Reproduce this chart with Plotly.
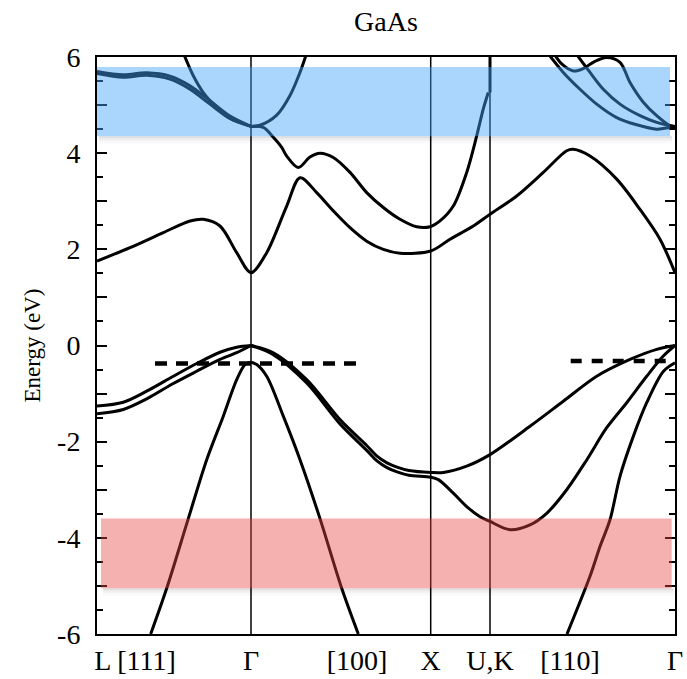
import plotly.graph_objects as go

# ---------------- data ----------------
# k-path coordinate (scaled path length), symmetry points
sym_k = [154, 333.7, 393]                     # Γ, X, U,K vertical lines
xtick_vals = [38, 154, 260, 333.7, 393, 473, 578]
xtick_text = ["L [111]", "Γ", "[100]", "X", "U,K", "[110]", "Γ"]
ytick_vals = [-6, -5, -4, -3, -2, -1, 0, 1, 2, 3, 4, 5, 6]
ytick_text = ["-6", "", "-4", "", "-2", "", "0", "", "2", "", "4", "", "6"]

# valence bands
hh_left_k = [0, 26.3, 49.7, 76.3, 99.7, 123, 139.7, 154]
hh_left_e = [-1.26, -1.18, -0.95, -0.64, -0.375, -0.14, -0.035, 0]
lh_left_k = [0, 26.3, 49.7, 76.3, 99.7, 123, 139.7, 154]
lh_left_e = [-1.42, -1.33, -1.11, -0.79, -0.535, -0.29, -0.15, 0]

vb_a_k = [154, 176.3, 209.7, 243, 269.7, 280, 290, 300, 312, 333.7, 346.3, 369.7, 393,
          433, 466.3, 499.7, 533, 559.7, 578]
vb_a_e = [0, -0.15, -0.71, -1.54, -2.08, -2.3, -2.44, -2.53, -2.6, -2.64, -2.64, -2.51,
          -2.27, -1.68, -1.16, -0.64, -0.29, -0.08, 0]
vb_b_k = [154, 176.3, 209.7, 243, 269.7, 280, 290, 300, 312, 333.7, 341.3, 356.3, 369.7,
          383, 393, 413, 433, 449.7, 469.7, 489.7, 509.7, 529.7, 549.7, 566.3, 578]
vb_b_e = [0, -0.19, -0.78, -1.63, -2.18, -2.4, -2.54, -2.63, -2.7, -2.74, -2.79, -3.07,
          -3.35, -3.56, -3.66, -3.83, -3.73, -3.49, -3.0, -2.38, -1.71, -1.19, -0.64,
          -0.22, 0]

so_left_k = [53.7, 69.7, 91.3, 109.7, 126.3, 139.7, 148, 154]
so_left_e = [-6.0, -5.05, -3.6, -2.375, -1.47, -0.71, -0.396, -0.35]
so_mid_k = [154, 159.7, 169.7, 186.3, 203, 223, 244.7, 261.3]
so_mid_e = [-0.35, -0.396, -0.64, -1.47, -2.375, -3.6, -5.05, -6.0]
so_right_k = [470, 493, 503, 513, 523, 536.3, 549.7, 566.3, 578]
so_right_e = [-6.0, -4.8, -4.18, -3.625, -2.72, -1.89, -1.19, -0.54, -0.36]

# conduction bands
cb1_k = [0, 33, 66.3, 93, 106.3, 123, 139.7, 154, 169.7, 189.7, 203, 219.7, 236.3,
         253, 269.7, 286.3, 303, 333.7, 353, 376.3, 393, 419.7, 446.3, 469.7, 476.3,
         493, 519.7, 543, 563, 578]
cb1_e = [1.756, 2.035, 2.348, 2.59, 2.625, 2.485, 1.93, 1.515, 1.93, 2.90, 3.49, 3.18,
         2.80, 2.45, 2.17, 2.0, 1.92, 1.965, 2.21, 2.485, 2.73, 3.11, 3.60, 4.05, 4.08,
         3.94, 3.46, 2.83, 2.21, 1.515]

cb2_k = [154, 166.3, 176.3, 184.7, 189.7, 201.3, 213, 223, 236.3, 253, 269.7, 286.3,
         303, 319.7, 333, 343, 356.3, 369.7, 379.7, 386.3, 391.3]
cb2_e = [4.556, 4.535, 4.33, 4.12, 3.94, 3.70, 3.92, 4.0, 3.91, 3.60, 3.18, 2.87,
         2.625, 2.47, 2.47, 2.59, 2.90, 3.60, 4.36, 4.92, 5.26]
cb2_u_k = [393, 393]
cb2_u_e = [5.26, 6.2]

hi_d1_k = [0, 26.3, 49.7, 73, 93, 113, 133, 154]
hi_d1_e = [5.70, 5.63, 5.67, 5.60, 5.40, 5.09, 4.77, 4.556]
hi_d2_k = [0, 26.3, 49.7, 73, 93, 113, 133, 154]
hi_d2_e = [5.66, 5.58, 5.62, 5.54, 5.33, 5.02, 4.72, 4.556]
hi_e_k = [85, 96.3, 106.3, 119.7, 133, 154]
hi_e_e = [6.15, 5.61, 5.26, 4.95, 4.72, 4.556]
hi_f_k = [154, 163, 179.7, 193, 203, 210]
hi_f_e = [4.556, 4.58, 4.79, 5.2, 5.68, 6.1]

hi_r1_k = [450, 466.3, 483, 499.7, 519.7, 539.7, 559.7, 573, 578]
hi_r1_e = [6.1, 5.68, 5.33, 5.02, 4.74, 4.59, 4.50, 4.535, 4.556]
hi_r2_k = [456, 465, 476.3, 486.3, 497, 509.7, 523, 533, 546.3, 559.7, 573, 578]
hi_r2_e = [6.1, 5.85, 5.71, 5.76, 5.90, 5.99, 5.89, 5.47, 5.06, 4.78, 4.57, 4.556]
hi_r3_k = [478, 493, 506.3, 523, 543, 559.7, 573, 578]
hi_r3_e = [6.1, 5.68, 5.33, 5.02, 4.78, 4.64, 4.57, 4.556]

# dashed reference levels
dash_left_k = [58, 260]
dash_left_e = [-0.375, -0.375]
dash_right_k = [473.7, 569.7]
dash_right_e = [-0.32, -0.32]

# highlighted energy windows
blue_win = [4.35, 5.79]
blue_k = [0, 573]
red_win = [-5.05, -3.6]
red_k = [4, 574.7]

# ---------------- figure ----------------
fig = go.Figure()

def band(k, e, width=3, shape="spline"):
    fig.add_trace(go.Scatter(x=k, y=e, mode="lines",
                             line=dict(color="black", width=width, shape=shape,
                                       smoothing=0.9 if shape == "spline" else None),
                             hoverinfo="skip", showlegend=False))

for k, e in [(hh_left_k, hh_left_e), (lh_left_k, lh_left_e), (vb_a_k, vb_a_e),
             (vb_b_k, vb_b_e), (so_left_k, so_left_e), (so_mid_k, so_mid_e),
             (so_right_k, so_right_e), (cb1_k, cb1_e), (cb2_k, cb2_e),
             (hi_d1_k, hi_d1_e), (hi_d2_k, hi_d2_e), (hi_e_k, hi_e_e),
             (hi_f_k, hi_f_e), (hi_r1_k, hi_r1_e), (hi_r2_k, hi_r2_e),
             (hi_r3_k, hi_r3_e)]:
    band(k, e)
band(cb2_u_k, cb2_u_e, width=3, shape="linear")

for k, e, d in [(dash_left_k, dash_left_e, "12px,9px"), (dash_right_k, dash_right_e, "11px,10px")]:
    fig.add_trace(go.Scatter(x=k, y=e, mode="lines",
                             line=dict(color="black", width=4.5, dash=d),
                             hoverinfo="skip", showlegend=False))

# symmetry lines
for xk in sym_k:
    fig.add_shape(type="line", x0=xk, x1=xk, y0=-6, y1=6, xref="x", yref="y",
                  line=dict(color="black", width=1.5), layer="below")

# shadows of windows
for (lo, hi), (k0, k1) in [(blue_win, blue_k), (red_win, red_k)]:
    for dd, op in [(0.04, 0.06), (0.09, 0.04), (0.15, 0.025)]:
        fig.add_shape(type="rect", x0=k0 + 2, x1=k1 + 2, y0=lo - dd, y1=lo,
                      xref="x", yref="y", fillcolor="rgba(0,0,0,%s)" % op,
                      line=dict(width=0), layer="below")

fig.add_shape(type="rect", x0=blue_k[0], x1=blue_k[1], y0=blue_win[0], y1=blue_win[1],
              xref="x", yref="y", fillcolor="rgba(67,163,250,0.45)",
              line=dict(width=0), layer="above")
fig.add_shape(type="rect", x0=red_k[0], x1=red_k[1], y0=red_win[0], y1=red_win[1],
              xref="x", yref="y", fillcolor="rgba(228,70,66,0.42)",
              line=dict(width=0), layer="above")

serif = "Liberation Serif"

fig.update_layout(
    width=687, height=679,
    margin=dict(l=97, r=12, t=57, b=45, autoexpand=False),
    paper_bgcolor="white", plot_bgcolor="white",
    title=dict(text="GaAs", x=0.5, xanchor="center", xref="paper",
               y=1 - 21 / 679, yanchor="middle", yref="container",
               font=dict(family=serif, size=28, color="black")),
    font=dict(family=serif, color="black"),
    xaxis=dict(range=[0, 578], showgrid=False, zeroline=False, automargin=False,
               showline=True, linecolor="black", linewidth=2, mirror=True,
               ticks="", tickvals=xtick_vals, ticktext=xtick_text,
               tickfont=dict(family=serif, size=28, color="black"),
               ticklabelstandoff=0),
    yaxis=dict(range=[-6, 6], showgrid=False, zeroline=False, automargin=False,
               showline=True, linecolor="black", linewidth=2, mirror="ticks",
               ticks="inside", ticklen=10, tickwidth=2, tickcolor="black",
               tickvals=ytick_vals, ticktext=ytick_text,
               tickfont=dict(family=serif, size=28, color="black"),
               ticklabelstandoff=9,
               minor=dict(ticks="inside", dtick=0.5, ticklen=6, tickwidth=2,
                          tickcolor="black", showgrid=False)),
)

fig.add_annotation(text="Energy (eV)", textangle=-90, xref="paper", yref="paper",
                   x=0, y=0.5, xanchor="center", yanchor="middle", xshift=-65,
                   showarrow=False, font=dict(family=serif, size=23, color="black"))

fig.write_html("out.html")
